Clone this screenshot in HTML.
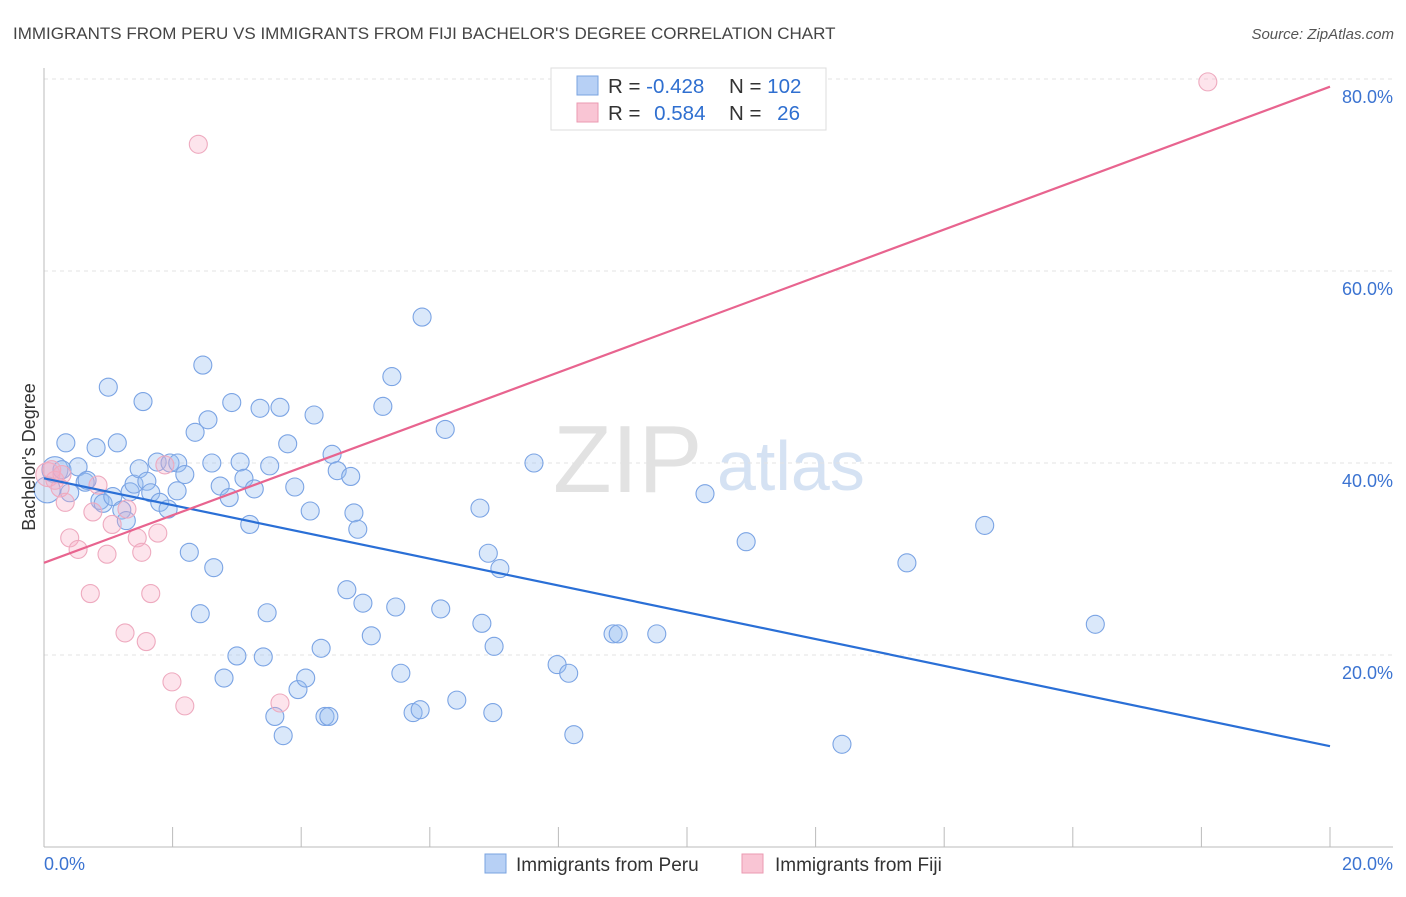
<!DOCTYPE html>
<html><head><meta charset="utf-8"><style>
body{margin:0;background:#fff;font-family:"Liberation Sans",sans-serif;}
svg text{font-family:"Liberation Sans",sans-serif;}
</style></head><body>
<svg width="1406" height="892" viewBox="0 0 1406 892" id="chart">
<text x="13" y="39" font-size="17" fill="#444">IMMIGRANTS FROM PERU VS IMMIGRANTS FROM FIJI BACHELOR'S DEGREE CORRELATION CHART</text>
<text x="1394" y="39" font-size="15" fill="#555" font-style="italic" text-anchor="end">Source: ZipAtlas.com</text>
<g>
<text x="553" y="492" font-size="96" fill="#e2e2e2" font-family="Liberation Serif">ZIP</text>
<text x="717" y="490" font-size="70" fill="#d5e2f3">atlas</text>
</g>
<g id="grid"></g>
<g id="axes"></g>
<g id="points"></g>
<g id="lines"></g>
<text x="35" y="457" font-size="18" fill="#333" transform="rotate(-90 35 457)" text-anchor="middle">Bachelor's Degree</text>
<g>
<rect x="551" y="68" width="275" height="62" fill="#fff" stroke="#ddd"/>
<rect x="577" y="76" width="21" height="19" fill="#b7d0f5" stroke="#7aa3e0"/>
<rect x="577" y="103" width="21" height="19" fill="#f9c5d4" stroke="#eb9ab2"/>
<text x="608" y="93" font-size="20.5" fill="#333">R = <tspan fill="#2f6fd0">-0.428</tspan></text>
<text x="729" y="93" font-size="20.5" fill="#333">N = <tspan fill="#2f6fd0">102</tspan></text>
<text x="608" y="120" font-size="20.5" fill="#333">R = <tspan fill="#2f6fd0" dx="8">0.584</tspan></text>
<text x="729" y="120" font-size="20.5" fill="#333">N = <tspan fill="#2f6fd0" dx="10">26</tspan></text>
</g>
<g>
<rect x="485" y="854" width="21" height="19" fill="#b7d0f5" stroke="#7aa3e0"/>
<text x="516" y="871" font-size="19" fill="#333">Immigrants from Peru</text>
<rect x="742" y="854" width="21" height="19" fill="#f9c5d4" stroke="#eb9ab2"/>
<text x="775" y="871" font-size="19" fill="#333">Immigrants from Fiji</text>
</g>
</svg>
<script>
const peruX=[0.05,0.17,0.34,0.28,0.40,0.53,0.64,0.67,0.81,1.00,0.87,0.92,1.14,1.07,1.21,1.28,1.34,1.40,1.48,1.54,1.60,1.66,1.76,1.80,1.93,1.96,2.07,2.08,2.19,2.26,2.35,2.43,2.47,2.55,2.61,2.64,2.74,2.80,2.88,2.92,3.00,3.05,3.11,3.20,3.27,3.36,3.41,3.47,3.51,3.59,3.67,3.72,3.79,3.90,3.95,4.07,4.14,4.20,4.31,4.37,4.43,4.48,4.56,4.71,4.77,4.82,4.88,4.96,5.09,5.27,5.41,5.47,5.55,5.74,5.85,5.88,6.17,6.24,6.42,6.78,6.81,6.91,7.00,6.98,7.09,7.62,7.98,8.16,8.24,8.85,8.93,9.53,10.28,10.92,12.41,13.42,14.63,16.35];
const peruY=[37.2,39.3,42.1,39.3,36.9,39.6,38.0,38.2,41.6,47.9,36.1,35.8,42.1,36.5,35.1,34.0,37.0,37.8,39.4,46.4,38.1,36.9,40.1,35.9,35.2,40.0,37.1,40.0,38.8,30.7,43.2,24.3,50.2,44.5,40.0,29.1,37.6,17.6,36.4,46.3,19.9,40.1,38.4,33.6,37.3,45.7,19.8,24.4,39.7,13.6,45.8,11.6,42.0,37.5,16.4,17.6,35.0,45.0,20.7,13.6,13.6,40.9,39.2,26.8,38.6,34.8,33.1,25.4,22.0,45.9,49.0,25.0,18.1,14.0,14.3,55.2,24.8,43.5,15.3,35.3,23.3,30.6,20.9,14.0,29.0,40.0,19.0,18.1,11.7,22.2,22.2,22.2,36.8,31.8,10.7,29.6,33.5,23.2];
const fijiX=[0.06,0.17,0.25,0.33,0.40,0.53,0.72,0.76,0.84,0.98,1.06,1.26,1.29,1.45,1.52,1.59,1.66,1.77,1.88,1.99,2.19,2.40,3.67,18.10,0.12,0.28];
const fijiY=[38.8,38.2,37.4,35.9,32.2,31.0,26.4,34.9,37.7,30.5,33.6,22.3,35.2,32.2,30.7,21.4,26.4,32.7,39.8,17.2,14.7,73.2,15.0,79.7,39.3,38.8];
const peruTrend=[38.4,10.5];
const fijiTrend=[29.6,79.2];
const yTicks=[20,40,60,80];
const yTickLabels=["20.0%","40.0%","60.0%","80.0%"];
const xTicks=[0,2,4,6,8,10,12,14,16,18,20];

const NS="http://www.w3.org/2000/svg";
const X0=44,X1=1330,Y0=847,PX=(X1-X0)/20,PY=9.6;
const sx=v=>X0+v*PX, sy=v=>Y0-v*PY;
function mk(tag,attrs,parent){const e=document.createElementNS(NS,tag);for(const k in attrs)e.setAttribute(k,attrs[k]);document.getElementById(parent).appendChild(e);return e;}
yTicks.forEach((t,i)=>{
  const l=mk('line',{x1:X0,x2:1393,y1:sy(t),y2:sy(t),stroke:'#e3e3e3','stroke-dasharray':'4 4'},'grid');
  
  
  const tx=mk('text',{x:1393,y:sy(t)+24,'font-size':18,fill:'#3b73d1','text-anchor':'end'},'axes');
  tx.textContent=yTickLabels[i];
  
  
});
let ax=mk('line',{x1:X0,x2:X0,y1:68,y2:Y0,stroke:'#bbb'},'axes');


ax=mk('line',{x1:X0,x2:1393,y1:Y0,y2:Y0,stroke:'#bbb'},'axes');


xTicks.forEach(t=>{
  const l=mk('line',{x1:sx(t),x2:sx(t),y1:827,y2:Y0,stroke:'#bbb'},'axes');
  
  
});
let xl=mk('text',{x:44,y:870,'font-size':18,fill:'#3b73d1'},'axes');xl.textContent='0.0%';


xl=mk('text',{x:1393,y:870,'font-size':18,fill:'#3b73d1','text-anchor':'end'},'axes');xl.textContent='20.0%';


peruX.forEach((v,i)=>{
  const c=mk('circle',{cx:sx(v),cy:sy(peruY[i]),r:i<2?13:9,fill:'rgba(150,188,242,0.35)',stroke:'#7ba4e4','stroke-width':1.1},'points');
  
  
});
fijiX.forEach((v,i)=>{
  const c=mk('circle',{cx:sx(v),cy:sy(fijiY[i]),r:i<1?12:9,fill:'rgba(248,170,195,0.32)',stroke:'#eeaabf','stroke-width':1.1},'points');
  
  
});
let tl=mk('line',{x1:sx(0),y1:sy(peruTrend[0]),x2:sx(20),y2:sy(peruTrend[1]),stroke:'#2a6fd6','stroke-width':2.2},'lines');


tl=mk('line',{x1:sx(0),y1:sy(fijiTrend[0]),x2:sx(20),y2:sy(fijiTrend[1]),stroke:'#e8648f','stroke-width':2.2},'lines');


</script>
</body></html>
